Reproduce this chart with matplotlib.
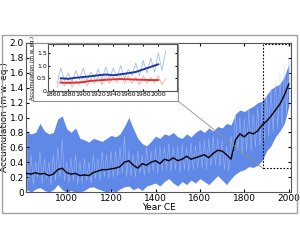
import numpy as np
import matplotlib
matplotlib.use("Agg")
import matplotlib.pyplot as plt
from matplotlib.patches import Rectangle, ConnectionPatch
from matplotlib.ticker import FuncFormatter

# main reconstruction (20-yr steps)
years = np.arange(820, 2001, 20)
upper = [0.80, 0.78, 0.80, 0.92, 0.82, 0.78, 0.80, 0.98, 1.02, 0.85,
         0.80, 0.86, 0.72, 0.70, 0.67, 0.72, 0.70, 0.68, 0.72, 0.76,
         0.74, 0.78, 0.88, 1.00, 0.85, 0.72, 0.65, 0.62, 0.68, 0.75,
         0.72, 0.78, 0.76, 0.80, 0.74, 0.72, 0.78, 0.74, 0.80, 0.84,
         0.80, 0.86, 0.82, 0.88, 0.86, 0.92, 0.90, 1.05, 1.10, 1.08,
         1.12, 1.15, 1.20, 1.22, 1.30, 1.38, 1.42, 1.45, 1.55, 1.72]
lower = [0.03, 0.00, 0.04, 0.06, 0.02, 0.00, 0.03, 0.10, 0.03, 0.00,
         0.02, 0.00, 0.00, 0.02, 0.06, 0.07, 0.04, 0.02, 0.00, 0.02,
         0.00, 0.04, 0.07, 0.08, 0.03, 0.06, 0.02, 0.08, 0.10, 0.12,
         0.08, 0.14, 0.18, 0.12, 0.08, 0.14, 0.10, 0.16, 0.12, 0.18,
         0.14, 0.10, 0.16, 0.22, 0.16, 0.10, 0.18, 0.24, 0.28, 0.30,
         0.34, 0.33, 0.36, 0.42, 0.55, 0.62, 0.74, 0.82, 0.92, 1.15]
mean = [0.25, 0.24, 0.26, 0.24, 0.25, 0.22, 0.24, 0.30, 0.32, 0.26,
        0.24, 0.25, 0.22, 0.23, 0.22, 0.26, 0.28, 0.30, 0.30, 0.31,
        0.32, 0.34, 0.40, 0.42, 0.36, 0.32, 0.38, 0.36, 0.40, 0.42,
        0.38, 0.44, 0.42, 0.46, 0.42, 0.44, 0.48, 0.44, 0.46, 0.48,
        0.50, 0.46, 0.52, 0.56, 0.55, 0.50, 0.44, 0.70, 0.78, 0.74,
        0.80, 0.78, 0.82, 0.90, 0.95, 1.02, 1.10, 1.18, 1.30, 1.45]

# single-year values (10-yr steps)
ann_years = np.arange(820, 2011, 10)
ann_vals = [0.45, 0.15, 0.50, 0.10, 0.40, 0.20, 0.55, 0.12, 0.45, 0.18,
            0.40, 0.10, 0.50, 0.15, 0.60, 0.20, 0.70, 0.15, 0.40,
            0.12, 0.45, 0.15, 0.50, 0.10, 0.40, 0.12, 0.45, 0.15, 0.40,
            0.12, 0.50, 0.18, 0.45, 0.15, 0.55, 0.20, 0.50, 0.18, 0.55,
            0.20, 0.55, 0.22, 0.60, 0.25, 0.75, 0.20, 0.55, 0.22, 0.50,
            0.20, 0.55, 0.25, 0.50, 0.22, 0.60, 0.25, 0.55, 0.28, 0.60,
            0.25, 0.62, 0.28, 0.60, 0.30, 0.65, 0.28, 0.60, 0.30, 0.62,
            0.26, 0.65, 0.30, 0.60, 0.28, 0.66, 0.30, 0.62, 0.32, 0.68,
            0.32, 0.70, 0.30, 0.72, 0.34, 0.75, 0.36, 0.72, 0.34, 0.70,
            0.30, 0.62, 0.28, 0.75, 0.50, 1.05, 0.55, 1.00, 0.50, 0.98,
            0.55, 1.10, 0.55, 1.05, 0.60, 1.15, 0.62, 1.20, 0.70, 1.30,
            0.75, 1.40, 0.80, 1.50, 0.85, 1.60, 0.90, 1.70, 1.05, 1.80, 1.25]

# inset series
ins_years = np.arange(1865, 2011, 5)
ins_blue = [0.30, 0.90, 0.40, 0.70, 0.35, 0.80, 0.45, 0.90, 0.40, 0.75,
            0.50, 0.85, 0.45, 0.95, 0.50, 0.90, 0.55, 1.00, 0.50, 0.85,
            0.60, 1.10, 0.60, 1.20, 0.70, 1.30, 0.75, 1.50, 0.80, 1.60]
ins_red = [0.15, 0.45, 0.20, 0.50, 0.15, 0.40, 0.25, 0.55, 0.20, 0.50,
           0.30, 0.60, 0.25, 0.65, 0.30, 0.55, 0.35, 0.65, 0.30, 0.60,
           0.30, 0.55, 0.25, 0.60, 0.30, 0.55, 0.30, 0.60, 0.25, 0.50]
smooth_years = np.arange(1870, 2001, 10)
smooth_blue = [0.50, 0.48, 0.52, 0.55, 0.58, 0.62, 0.65, 0.62, 0.66, 0.70,
               0.75, 0.85, 0.95, 1.05]
smooth_red = [0.33, 0.32, 0.33, 0.35, 0.40, 0.42, 0.44, 0.46, 0.47, 0.46,
              0.45, 0.44, 0.43, 0.43]

zoom_x = (1882, 2008)
zoom_y = (0.32, 1.98)

fmt = FuncFormatter(lambda v, p: '0' if abs(v) < 1e-9 else '%.1f' % v)

fig = plt.figure(figsize=(3, 2.5), dpi=100)
fig.patches.append(Rectangle((2/300, 0.148), 295/300, 0.712, transform=fig.transFigure,
                             fill=False, edgecolor='#a0a0a0', lw=1))

ax = fig.add_axes([26/300, 0.232, 265/300, 0.596])
ax.fill_between(years, lower, upper, color='#6088e6', lw=0, zorder=1)
ax.plot(ann_years, ann_vals, color='#c8d5f6', lw=0.4, alpha=0.6, zorder=2)
ax.plot(years, mean, color='black', lw=1.0, zorder=3)
ax.add_patch(Rectangle((zoom_x[0], zoom_y[0]), zoom_x[1]-zoom_x[0], zoom_y[1]-zoom_y[0],
                       fill=False, ls=(0, (1.5, 1.5)), lw=0.8, edgecolor='black', zorder=4))
ax.set_xlim(817, 2010)
ax.set_ylim(0, 2.0)
ax.set_xticks(np.arange(1000, 2001, 200))
ax.set_yticks(np.arange(0, 2.01, 0.2))
ax.yaxis.set_major_formatter(fmt)
ax.tick_params(direction='in', length=2, labelsize=6.5, pad=1.5, top=True, right=True)
for s in ax.spines.values():
    s.set_color('#555555')
ax.set_xlabel('Year CE', fontsize=6.5, labelpad=0)
ax.set_ylabel('Accumulation (m w. eq.)', fontsize=6.5)
ax.yaxis.set_label_coords(-0.064, 0.5)

box = fig.add_axes([33/300, 0.596, 145/300, 0.232])
box.set_xticks([])
box.set_yticks([])
for s in box.spines.values():
    s.set_color('#909090')

ins = fig.add_axes([48/300, 0.636, 129/300, 0.188])
ins.plot(ins_years, ins_blue, color='#a3b8ec', lw=0.6)
ins.plot(ins_years, ins_red, color='#f2aaaa', lw=0.6)
ins.plot(smooth_years, smooth_blue, color='#1c3a9a', lw=1.4)
ins.plot(smooth_years, smooth_red, color='#e03030', lw=1.4)
ins.set_xlim(1853, 2025)
ins.set_ylim(0, 1.85)
ins.set_xticks(np.arange(1860, 2001, 20))
ins.set_yticks([0, 0.5, 1.0, 1.5])
ins.yaxis.set_major_formatter(fmt)
ins.tick_params(direction='in', length=1.5, labelsize=4.5, pad=1, top=True, right=True)
for s in ins.spines.values():
    s.set_color('#555555')
ins.set_ylabel('Accumulation (m w. eq.)', fontsize=3.8, labelpad=1)

con = ConnectionPatch(xyA=(1, 0), coordsA=box.transAxes,
                      xyB=(zoom_x[0], zoom_y[0]), coordsB=ax.transData,
                      color='#909090', lw=0.6)
fig.add_artist(con)

fig.savefig('out.png', dpi=100)
